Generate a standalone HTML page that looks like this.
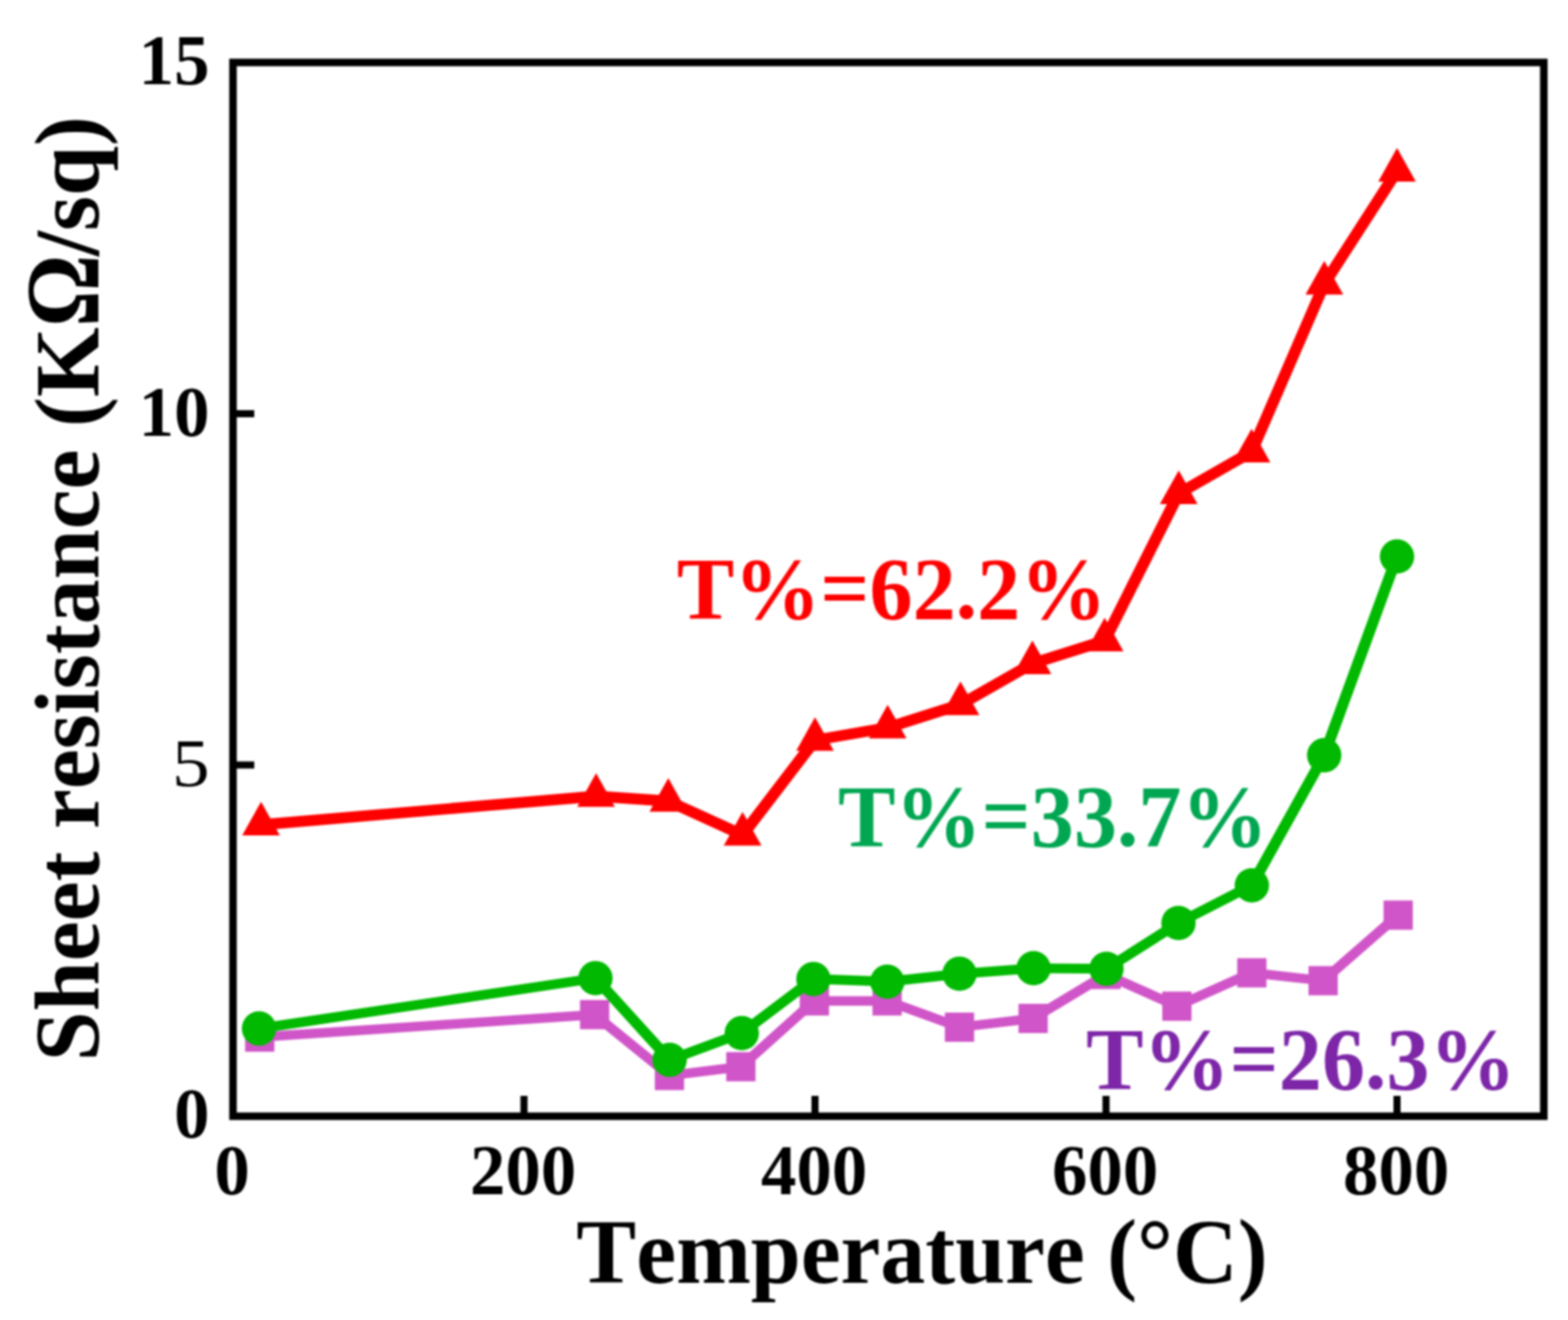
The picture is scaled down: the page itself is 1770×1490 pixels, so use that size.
<!DOCTYPE html>
<html lang="en"><head><meta charset="utf-8"><title>Sheet resistance vs temperature</title>
<style>
html,body{margin:0;padding:0;background:#fff;}
body{width:1770px;height:1490px;overflow:hidden;}
svg{display:block;filter:blur(0.9px);}
text{font-family:"Liberation Serif","DejaVu Serif",serif;font-weight:bold;font-kerning:none;}
</style></head><body>
<svg width="1770" height="1490" viewBox="0 0 1770 1490">
<rect x="0" y="0" width="1770" height="1490" fill="#ffffff"/>
<g id="series-purple" fill="#d055c8" stroke="none">
<g stroke="#d055c8" stroke-linecap="round">
<line x1="293.2" y1="1170.7" x2="671.2" y2="1145.3" stroke-width="10.7"/>
<line x1="671.2" y1="1145.3" x2="755.7" y2="1214.0" stroke-width="11.2"/>
<line x1="755.7" y1="1214.0" x2="836.3" y2="1204.1" stroke-width="10.7"/>
<line x1="836.3" y1="1204.1" x2="919.3" y2="1129.8" stroke-width="11.3"/>
<line x1="919.3" y1="1129.8" x2="1001.4" y2="1129.8" stroke-width="10.7"/>
<line x1="1001.4" y1="1129.8" x2="1083.1" y2="1159.5" stroke-width="10.9"/>
<line x1="1083.1" y1="1159.5" x2="1166.2" y2="1149.6" stroke-width="10.7"/>
<line x1="1166.2" y1="1149.6" x2="1248.5" y2="1100.0" stroke-width="11.1"/>
<line x1="1248.5" y1="1100.0" x2="1328.5" y2="1135.8" stroke-width="10.9"/>
<line x1="1328.5" y1="1135.8" x2="1413.1" y2="1098.1" stroke-width="10.9"/>
<line x1="1413.1" y1="1098.1" x2="1493.6" y2="1107.0" stroke-width="10.7"/>
<line x1="1493.6" y1="1107.0" x2="1578.3" y2="1033.0" stroke-width="11.3"/>
</g>
<rect x="276.7" y="1154.2" width="33" height="33"/>
<rect x="654.7" y="1128.8" width="33" height="33"/>
<rect x="739.2" y="1197.5" width="33" height="33"/>
<rect x="819.8" y="1187.6" width="33" height="33"/>
<rect x="902.8" y="1113.3" width="33" height="33"/>
<rect x="984.9" y="1113.3" width="33" height="33"/>
<rect x="1066.6" y="1143.0" width="33" height="33"/>
<rect x="1149.7" y="1133.1" width="33" height="33"/>
<rect x="1232.0" y="1083.5" width="33" height="33"/>
<rect x="1312.0" y="1119.3" width="33" height="33"/>
<rect x="1396.6" y="1081.6" width="33" height="33"/>
<rect x="1477.1" y="1090.5" width="33" height="33"/>
<rect x="1561.8" y="1016.5" width="33" height="33"/>
</g>
<g id="series-green" fill="#00b900" stroke="none">
<g stroke="#00b900" stroke-linecap="round">
<line x1="292.4" y1="1161.0" x2="672.2" y2="1104.1" stroke-width="11.0"/>
<line x1="672.2" y1="1104.1" x2="755.9" y2="1196.4" stroke-width="12.0"/>
<line x1="755.9" y1="1196.4" x2="837.3" y2="1166.2" stroke-width="11.2"/>
<line x1="837.3" y1="1166.2" x2="918.2" y2="1105.1" stroke-width="11.6"/>
<line x1="918.2" y1="1105.1" x2="1001.6" y2="1108.1" stroke-width="11.0"/>
<line x1="1001.6" y1="1108.1" x2="1083.1" y2="1099.2" stroke-width="11.0"/>
<line x1="1083.1" y1="1099.2" x2="1166.7" y2="1092.9" stroke-width="11.0"/>
<line x1="1166.7" y1="1092.9" x2="1249.0" y2="1093.6" stroke-width="11.0"/>
<line x1="1249.0" y1="1093.6" x2="1330.3" y2="1041.8" stroke-width="11.5"/>
<line x1="1330.3" y1="1041.8" x2="1413.1" y2="999.3" stroke-width="11.4"/>
<line x1="1413.1" y1="999.3" x2="1494.8" y2="852.5" stroke-width="12.3"/>
<line x1="1494.8" y1="852.5" x2="1577.0" y2="628.2" stroke-width="12.5"/>
</g>
<circle cx="292.4" cy="1161.0" r="19.4"/>
<circle cx="672.2" cy="1104.1" r="19.4"/>
<circle cx="755.9" cy="1196.4" r="19.4"/>
<circle cx="837.3" cy="1166.2" r="19.4"/>
<circle cx="918.2" cy="1105.1" r="19.4"/>
<circle cx="1001.6" cy="1108.1" r="19.4"/>
<circle cx="1083.1" cy="1099.2" r="19.4"/>
<circle cx="1166.7" cy="1092.9" r="19.4"/>
<circle cx="1249.0" cy="1093.6" r="19.4"/>
<circle cx="1330.3" cy="1041.8" r="19.4"/>
<circle cx="1413.1" cy="999.3" r="19.4"/>
<circle cx="1494.8" cy="852.5" r="19.4"/>
<circle cx="1577.0" cy="628.2" r="19.4"/>
</g>
<g id="series-red" fill="#ff0000" stroke="none">
<g stroke="#ff0000" stroke-linecap="round">
<line x1="294.7" y1="931.0" x2="672.9" y2="898.7" stroke-width="12.4"/>
<line x1="672.9" y1="898.7" x2="754.4" y2="904.3" stroke-width="12.4"/>
<line x1="754.4" y1="904.3" x2="838.2" y2="942.5" stroke-width="12.5"/>
<line x1="838.2" y1="942.5" x2="920.0" y2="835.5" stroke-width="12.8"/>
<line x1="920.0" y1="835.5" x2="1002.0" y2="821.4" stroke-width="12.4"/>
<line x1="1002.0" y1="821.4" x2="1084.2" y2="795.3" stroke-width="12.5"/>
<line x1="1084.2" y1="795.3" x2="1165.4" y2="749.0" stroke-width="12.5"/>
<line x1="1165.4" y1="749.0" x2="1247.0" y2="723.2" stroke-width="12.5"/>
<line x1="1247.0" y1="723.2" x2="1330.6" y2="557.0" stroke-width="12.9"/>
<line x1="1330.6" y1="557.0" x2="1412.8" y2="510.0" stroke-width="12.6"/>
<line x1="1412.8" y1="510.0" x2="1494.9" y2="320.5" stroke-width="12.9"/>
<line x1="1494.9" y1="320.5" x2="1577.0" y2="193.0" stroke-width="12.8"/>
</g>
<polygon points="294.7,905.0 273.4,943.0 315.9,943.0"/>
<polygon points="672.9,872.7 651.6,910.7 694.1,910.7"/>
<polygon points="754.4,878.3 733.1,916.3 775.6,916.3"/>
<polygon points="838.2,916.5 817.0,954.5 859.5,954.5"/>
<polygon points="920.0,809.5 898.8,847.5 941.2,847.5"/>
<polygon points="1002.0,795.4 980.8,833.4 1023.2,833.4"/>
<polygon points="1084.2,769.3 1063.0,807.3 1105.5,807.3"/>
<polygon points="1165.4,723.0 1144.2,761.0 1186.7,761.0"/>
<polygon points="1247.0,697.2 1225.8,735.2 1268.2,735.2"/>
<polygon points="1330.6,531.0 1309.3,569.0 1351.8,569.0"/>
<polygon points="1412.8,484.0 1391.5,522.0 1434.0,522.0"/>
<polygon points="1494.9,294.5 1473.7,332.5 1516.2,332.5"/>
<polygon points="1577.0,167.0 1555.8,205.0 1598.2,205.0"/>
</g>
<g id="axes" stroke="#000" fill="none" stroke-linecap="butt">
<rect x="263.0" y="70.5" width="1479.7" height="1189.5" stroke-width="8.5"/>
<line x1="591.5" y1="1260.0" x2="591.5" y2="1237.0" stroke-width="8"/>
<line x1="920.0" y1="1260.0" x2="920.0" y2="1237.0" stroke-width="8"/>
<line x1="1248.5" y1="1260.0" x2="1248.5" y2="1237.0" stroke-width="8"/>
<line x1="1577.0" y1="1260.0" x2="1577.0" y2="1237.0" stroke-width="8"/>
<line x1="263.0" y1="863.5" x2="287.0" y2="863.5" stroke-width="8"/>
<line x1="263.0" y1="467.0" x2="287.0" y2="467.0" stroke-width="8"/>
</g>
<g id="tick-labels">
<text transform="translate(262.0,1348)" font-size="80" text-anchor="middle">0</text>
<text transform="translate(590.5,1348)" font-size="80" text-anchor="middle">200</text>
<text transform="translate(919.0,1348)" font-size="80" text-anchor="middle">400</text>
<text transform="translate(1247.5,1348)" font-size="80" text-anchor="middle">600</text>
<text transform="translate(1576.0,1348)" font-size="80" text-anchor="middle">800</text>
<text transform="translate(236.5,94.5)" font-size="80" text-anchor="end">15</text>
<text transform="translate(236.5,491.5)" font-size="80" text-anchor="end">10</text>
<text transform="translate(236.5,887.3) scale(1.1,1)" font-size="77" text-anchor="end" style="font-weight:normal">5</text>
<text transform="translate(236.5,1284)" font-size="80" text-anchor="end">0</text>
</g>
<g id="axis-titles">
<text transform="translate(650.6,1448.3) scale(0.9743,1)" font-size="104" text-anchor="start">Temperature (°C)</text>
<text transform="translate(111,1198) rotate(-90) scale(0.976,1)" font-size="104" text-anchor="start">Sheet resistance (K</text>
<text transform="translate(111,369.1) rotate(-90) scale(0.856,1)" font-size="119" text-anchor="start">Ω</text>
<text transform="translate(111,289) rotate(-90) scale(0.976,1)" font-size="104" text-anchor="start">/sq)</text>
</g>
<g id="annotations">
<text transform="translate(764,698) scale(0.9824,1)" font-size="99" text-anchor="start" fill="#ff0000">T%=62.2%</text>
<text transform="translate(946,955) scale(0.9824,1)" font-size="99" text-anchor="start" fill="#00a651">T%=33.7%</text>
<text transform="translate(1226,1229) scale(0.9824,1)" font-size="99" text-anchor="start" fill="#7d26a8">T%=26.3%</text>
</g>
</svg>
</body></html>
